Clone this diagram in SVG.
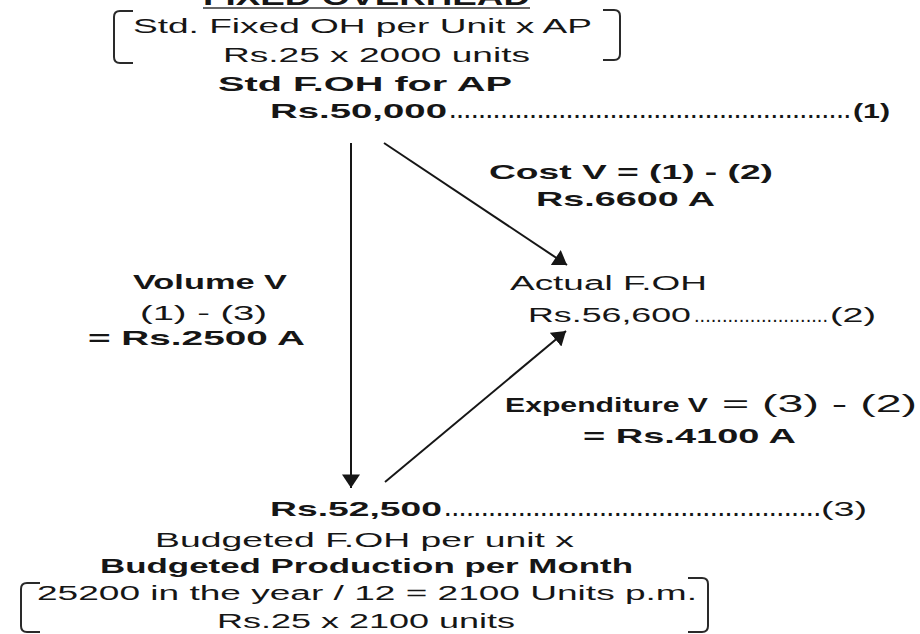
<svg xmlns="http://www.w3.org/2000/svg" width="920" height="634" viewBox="0 0 920 634">
<defs>
<style>
text{font-family:"Liberation Sans",Arial,sans-serif;fill:#161616}
.r{font-size:20px;font-weight:400}
.b{font-size:21px;font-weight:700}
.d{font-size:20px;font-weight:700}
.br{fill:none;stroke:#2a2a2a;stroke-width:2}
.c{stroke:#161616;stroke-width:2;fill:none}
</style>
<marker id="ah" markerUnits="userSpaceOnUse" markerWidth="14" markerHeight="18" viewBox="0 0 12 16" refX="12" refY="8" orient="auto">
<path d="M0,0 L12,8 L0,16 z" fill="#161616"/>
</marker>
</defs>
<rect width="920" height="634" fill="#fff"/>

<g id="title">
<text x="203" y="5" class="b" textLength="327" lengthAdjust="spacingAndGlyphs" style="font-size:24px">FIXED OVERHEAD</text>
<line x1="203" y1="8" x2="530" y2="8" stroke="#333" stroke-width="1.5"/>
</g>

<g id="node-std-foh-ap">
<path class="br" d="M133,11 L120,11 Q114,11 114,17 L114,57 Q114,63 120,63 L133,63"/>
<path class="br" d="M603,10 L614,10 Q620,10 620,16 L620,54 Q620,60 614,60 L603,60"/>
<text class="r" x="133" y="33" textLength="459" lengthAdjust="spacingAndGlyphs">Std. Fixed OH per Unit x AP</text>
<text class="r" x="223" y="62" textLength="307" lengthAdjust="spacingAndGlyphs">Rs.25 x 2000 units</text>
<text class="b" x="218" y="91" textLength="294" lengthAdjust="spacingAndGlyphs">Std F.OH for AP</text>
<text class="b" x="270" y="118" textLength="177" lengthAdjust="spacingAndGlyphs">Rs.50,000</text>
<text class="d" x="450" y="118" textLength="400" lengthAdjust="spacing">.......................................................</text>
<text class="b" x="853" y="118" textLength="37" lengthAdjust="spacingAndGlyphs">(1)</text>
</g>

<g id="node-actual-foh">
<text class="r" x="510" y="290" textLength="197" lengthAdjust="spacingAndGlyphs">Actual F.OH</text>
<text class="r" x="528" y="322" textLength="163" lengthAdjust="spacingAndGlyphs">Rs.56,600</text>
<text class="r" x="694" y="322" textLength="134" lengthAdjust="spacing">........................</text>
<text class="r" x="830" y="322" textLength="46" lengthAdjust="spacingAndGlyphs">(2)</text>
</g>

<g id="node-budgeted-foh">
<text class="b" x="270" y="516" textLength="172" lengthAdjust="spacingAndGlyphs">Rs.52,500</text>
<text class="d" x="445" y="516" textLength="375" lengthAdjust="spacing">...................................................</text>
<text class="r" x="821" y="516" textLength="46" lengthAdjust="spacingAndGlyphs">(3)</text>
<text class="r" x="155" y="547" textLength="419" lengthAdjust="spacingAndGlyphs">Budgeted F.OH per unit x</text>
<text class="b" x="100" y="573" textLength="533" lengthAdjust="spacingAndGlyphs">Budgeted Production per Month</text>
<path class="br" d="M40,583 L27,583 Q21,583 21,589 L21,626 Q21,632 27,632 L40,632"/>
<path class="br" d="M688,578 L702,578 Q708,578 708,584 L708,626 Q708,632 702,632 L688,632"/>
<text class="r" x="37" y="600" textLength="660" lengthAdjust="spacingAndGlyphs">25200 in the year / 12 = 2100 Units p.m.</text>
<text class="r" x="217" y="628" textLength="298" lengthAdjust="spacingAndGlyphs">Rs.25 x 2100 units</text>
</g>

<g id="label-cost-variance">
<text class="b" x="489" y="179" textLength="284" lengthAdjust="spacingAndGlyphs">Cost V = (1) - (2)</text>
<text class="b" x="536" y="206" textLength="179" lengthAdjust="spacingAndGlyphs">Rs.6600 A</text>
</g>

<g id="label-volume-variance">
<text class="b" x="133" y="289" textLength="154" lengthAdjust="spacingAndGlyphs">Volume V</text>
<text class="r" x="140" y="320" textLength="127" lengthAdjust="spacingAndGlyphs">(1) - (3)</text>
<text class="b" x="88" y="345" textLength="217" lengthAdjust="spacingAndGlyphs">= Rs.2500 A</text>
</g>

<g id="label-expenditure-variance">
<text class="b" x="505" y="412" textLength="203" lengthAdjust="spacingAndGlyphs">Expenditure V</text>
<text x="722" y="412" textLength="195" lengthAdjust="spacingAndGlyphs" style="font-size:23px;font-weight:400">= (3) - (2)</text>
<text class="b" x="583" y="443" textLength="213" lengthAdjust="spacingAndGlyphs">= Rs.4100 A</text>
</g>

<g id="connectors">
<line class="c" x1="351" y1="143" x2="351" y2="488" marker-end="url(#ah)"/>
<line class="c" x1="384" y1="143" x2="567" y2="265" marker-end="url(#ah)"/>
<line class="c" x1="385" y1="482" x2="566" y2="331" marker-end="url(#ah)"/>
</g>
</svg>
